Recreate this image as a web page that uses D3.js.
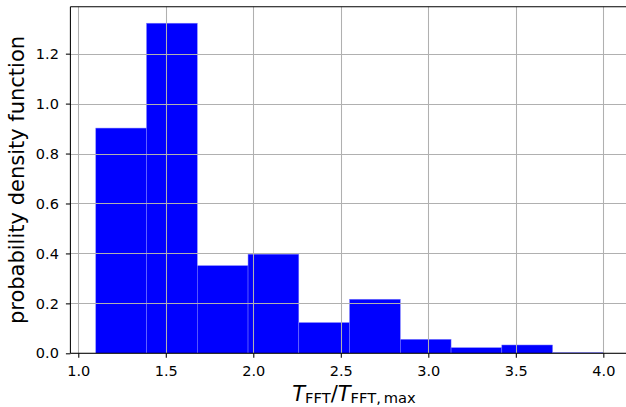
<!DOCTYPE html>
<html>
<head>
<meta charset="utf-8">
<script src="https://cdn.jsdelivr.net/npm/d3@7"></script>
<style>
  html, body { margin: 0; padding: 0; background: #fff; }
  svg { display: block; }
  text { font-family: "DejaVu Sans", sans-serif; fill: #000; }
</style>
</head>
<body>
<svg id="chart" width="626" height="407"></svg>
<script>
// Histogram bin edges (T_FFT / T_FFT,max)
const binEdges = [1.10, 1.39, 1.68, 1.97, 2.26, 2.55, 2.84, 3.13, 3.42, 3.71, 4.00];
// Probability density per bin
const densities = [0.902, 1.322, 0.351, 0.397, 0.123, 0.2165, 0.056, 0.0225, 0.0333, 0.0025];
const xTicks = [1.0, 1.5, 2.0, 2.5, 3.0, 3.5, 4.0];
const yTicks = [0.0, 0.2, 0.4, 0.6, 0.8, 1.0, 1.2];
const yLabel = "probability density function";

const bins = densities.map((d, i) => ({x0: binEdges[i], x1: binEdges[i + 1], y: d}));

const svg = d3.select("#chart");
const pLeft = 70.4, pRight = 628.7, pTop = 6.7, pBottom = 353.3;

const xSpan = binEdges[binEdges.length - 1] - binEdges[0];
const x = d3.scaleLinear()
  .domain([binEdges[0] - 0.05 * xSpan, binEdges[binEdges.length - 1] + 0.05 * xSpan])
  .range([pLeft, pRight]);
const y = d3.scaleLinear()
  .domain([0, d3.max(densities) * 1.05])
  .range([pBottom, pTop]);

// bars
svg.append("g").selectAll("rect").data(bins).join("rect")
  .attr("x", d => x(d.x0))
  .attr("width", d => x(d.x1) - x(d.x0))
  .attr("y", d => y(d.y))
  .attr("height", d => y(0) - y(d.y))
  .attr("fill", "#0000ff")
  .attr("stroke", "#7f7fff")
  .attr("stroke-width", 0.5);

// grid (drawn above bars, like matplotlib default)
const grid = svg.append("g");
grid.selectAll("line.gx").data(xTicks).join("line")
  .attr("class", "gx")
  .attr("x1", d => Math.round(x(d)) + 0.5).attr("x2", d => Math.round(x(d)) + 0.5)
  .attr("y1", pTop).attr("y2", pBottom)
  .attr("stroke", "#b0b0b0").attr("stroke-width", 1.05);
grid.selectAll("line.gy").data(yTicks).join("line")
  .attr("class", "gy")
  .attr("x1", pLeft).attr("x2", pRight)
  .attr("y1", d => Math.round(y(d)) + 0.5).attr("y2", d => Math.round(y(d)) + 0.5)
  .attr("stroke", "#b0b0b0").attr("stroke-width", 1.05);

// axes
const xAxis = d3.axisBottom(x).tickValues(xTicks).tickFormat(d3.format(".1f"))
  .tickSize(4.5).tickPadding(8.3);
const yAxis = d3.axisLeft(y).tickValues(yTicks).tickFormat(d3.format(".1f"))
  .tickSize(4.5).tickPadding(7);

const gx = svg.append("g").attr("transform", `translate(0,${pBottom})`).call(xAxis);
const gy = svg.append("g").attr("transform", `translate(${pLeft},0)`).call(yAxis);
[gx, gy].forEach(g => {
  g.select(".domain").remove();
  g.selectAll(".tick line").attr("stroke", "#000").attr("stroke-width", 1.05);
  g.selectAll(".tick text").attr("font-size", 14.5).attr("font-family", "DejaVu Sans").attr("fill", "#000");
});

// spines
const sp = svg.append("g").attr("stroke", "#000").attr("stroke-width", 1.05).attr("fill", "none");
sp.append("line").attr("x1", pLeft).attr("x2", pLeft).attr("y1", pTop).attr("y2", pBottom);
sp.append("line").attr("x1", pLeft).attr("x2", pRight).attr("y1", pBottom).attr("y2", pBottom);
sp.append("line").attr("x1", pLeft).attr("x2", pRight).attr("y1", pTop).attr("y2", pTop);
sp.append("line").attr("x1", pRight).attr("x2", pRight).attr("y1", pTop).attr("y2", pBottom);

// y label
svg.append("text")
  .attr("transform", `translate(23.5,${(pTop + pBottom) / 2}) rotate(-90)`)
  .attr("text-anchor", "middle")
  .attr("font-size", 21)
  .text(yLabel);

// x label (mathtext-like)
const xl = svg.append("text")
  .attr("x", 354).attr("y", 401)
  .attr("text-anchor", "middle")
  .attr("font-size", 21);
xl.append("tspan").attr("font-style", "italic").text("T");
xl.append("tspan").attr("font-size", 14.7).attr("dy", 1.5).text("FFT");
xl.append("tspan").attr("dy", -1.5).text("/");
xl.append("tspan").attr("font-style", "italic").text("T");
xl.append("tspan").attr("font-size", 14.7).attr("dy", 1.5).text("FFT,\u2009max");
</script>
</body>
</html>
